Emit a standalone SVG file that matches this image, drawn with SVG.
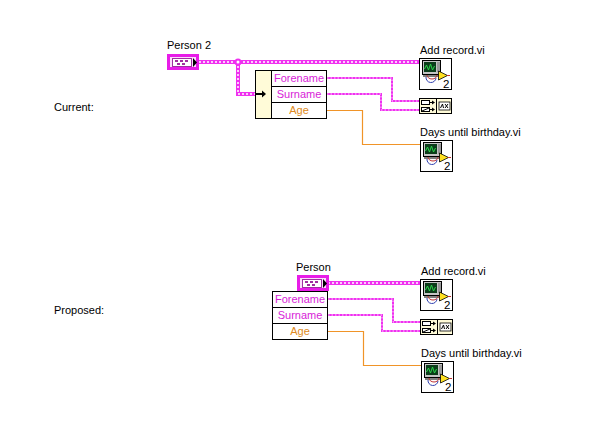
<svg xmlns="http://www.w3.org/2000/svg" xmlns:xlink="http://www.w3.org/1999/xlink" width="593" height="427" viewBox="0 0 593 427">
<style>
text{font-family:"Liberation Sans",Arial,sans-serif;font-size:11px;fill:#000}
.pk{fill:#d81cd8}.or{fill:#e08a20}
.w{fill:none}
.thick{stroke:#f030f0;stroke-width:4}
.thickd{stroke:#fff;stroke-width:1.500;stroke-dasharray:2 2}
.thin{stroke:#f030f0;stroke-width:2}
.thind{stroke:#fff;stroke-width:.8;stroke-dasharray:1.500 2}
.orw{stroke:#f09428;stroke-width:1.200}
.b{fill:#fff;stroke:#000;stroke-width:1}
</style>
<defs>
<g id="vi">
<rect x="0.500" y="0.500" width="32" height="31" fill="#fff" stroke="#000"/>
<rect x="3.500" y="2.500" width="18" height="14" fill="#c4c4c4" stroke="#000"/>
<rect x="5" y="4" width="12" height="10" fill="#0b3d1a"/>
<path d="M5.500 11l2-4 2 5 2-6 2 6 2-4" fill="none" stroke="#2bd44a"/>
<rect x="18" y="4" width="3" height="10" fill="#999"/>
<path d="M4 18h15" stroke="#000"/>
<path d="M8 17a5 4 0 0 0 10 0" fill="none" stroke="#c03030"/>
<path d="M7 19a5 5 0 0 0 10 1" fill="none" stroke="#3040b0"/>
<path d="M19 17.500h3" stroke="#c03030"/>
<path d="M19.500 13l9 4.500-9 4.500z" fill="#ffe020" stroke="#000" stroke-width=".8"/>
<path d="M28 17.500h3" stroke="#c03030"/>
<text x="24" y="29.500" style="font-size:11.500px">2</text>
</g>
<g id="build">
<rect x="0.500" y="0.500" width="32" height="15" fill="#fffbd8" stroke="#000"/>
<path d="M17.500 0.500v15" stroke="#000"/>
<rect x="2.500" y="2.500" width="8" height="4" fill="#fff" stroke="#000"/>
<rect x="2.500" y="9.500" width="8" height="4" fill="#fff" stroke="#000"/>
<path d="M3 13l7-3" stroke="#000"/>
<path d="M11 4.500h3M11 11.500h3" stroke="#000"/>
<path d="M13 2.500l3 2-3 2zM13 9.500l3 2-3 2z"/>
<rect x="20" y="4" width="11" height="8" fill="#fff" stroke="#000" stroke-width=".8"/>
<path d="M21.500 10l2-4 1 4M26 6l3 4M29 6l-3 4" fill="none" stroke="#000"/>
</g>
<g id="ctl">
<rect x="1.500" y="1.500" width="29" height="13" fill="#fbdcfb" stroke="#e81ce8" stroke-width="3"/>
<rect x="5.500" y="4.500" width="19" height="8" fill="#fff" stroke="#a030a0"/>
<path d="M8 6h3v2h-3zM13 6h3v2h-3zM18 6h3v2h-3zM10 9h3v2h-3zM15 9h3v2h-3z" fill="#a030a0"/>
<path d="M26 4l4 4.500-4 4.500z"/>
</g>
</defs>
<text x="54" y="111">Current:</text>
<text x="54" y="314">Proposed:</text>
<g id="connectors">
<path class="w thick" d="M199 62H419M238 62V94H256"/>
<path class="w thickd" d="M199 62H419M238 62V94H256"/>
<circle cx="238" cy="62" r="2.500" fill="#fff" stroke="#f030f0" stroke-width="2"/>
<path class="w thin" d="M327 78H392V101H419M327 94H381V110H419"/>
<path class="w thind" d="M327 78H392V101H419M327 94H381V110H419"/>
<path class="w orw" d="M327 110.500H362.500V144.500H420"/>
<path class="w thick" d="M328 283H420"/>
<path class="w thickd" d="M328 283H420"/>
<path class="w thin" d="M328 299H393V322H420M328 315H382V331H420"/>
<path class="w thind" d="M328 299H393V322H420M328 315H382V331H420"/>
<path class="w orw" d="M328 331.500H363.500V365.500H421"/>
</g>
<g id="person2"><use xlink:href="#ctl" x="167" y="54"/><text x="167" y="49">Person 2</text></g>
<g id="unbundle1">
<rect class="b" x="255.500" y="70.500" width="71" height="48"/>
<rect x="256" y="71" width="15" height="47" fill="#fffbd8"/>
<path d="M271.500 70.500v48M271.500 86.500h55M271.500 102.500h55" stroke="#000" fill="none"/>
<path d="M256 94h6" stroke="#000" stroke-width="2"/>
<path d="M262 90.500l4 3.500-4 3.500z"/>
<text class="pk" x="299" y="82" text-anchor="middle">Forename</text>
<text class="pk" x="299" y="98" text-anchor="middle">Surname</text>
<text class="or" x="299" y="114" text-anchor="middle">Age</text>
</g>
<g id="add1"><use xlink:href="#vi" x="419" y="58"/><text x="420" y="54">Add record.vi</text></g>
<g id="build1"><use xlink:href="#build" x="419" y="98"/></g>
<g id="days1"><use xlink:href="#vi" x="420" y="140"/><text x="420" y="136">Days until birthday.vi</text></g>
<g id="person"><use xlink:href="#ctl" x="297" y="275"/><text x="296" y="271">Person</text></g>
<g id="unbundle2">
<rect class="b" x="272.500" y="291.500" width="55" height="48"/>
<path d="M272.500 307.500h55M272.500 323.500h55" stroke="#000" fill="none"/>
<text class="pk" x="300" y="303" text-anchor="middle">Forename</text>
<text class="pk" x="300" y="319" text-anchor="middle">Surname</text>
<text class="or" x="300" y="335" text-anchor="middle">Age</text>
</g>
<g id="add2"><use xlink:href="#vi" x="420" y="279"/><text x="421" y="275">Add record.vi</text></g>
<g id="build2"><use xlink:href="#build" x="420" y="319"/></g>
<g id="days2"><use xlink:href="#vi" x="421" y="361"/><text x="421" y="357">Days until birthday.vi</text></g>
</svg>
